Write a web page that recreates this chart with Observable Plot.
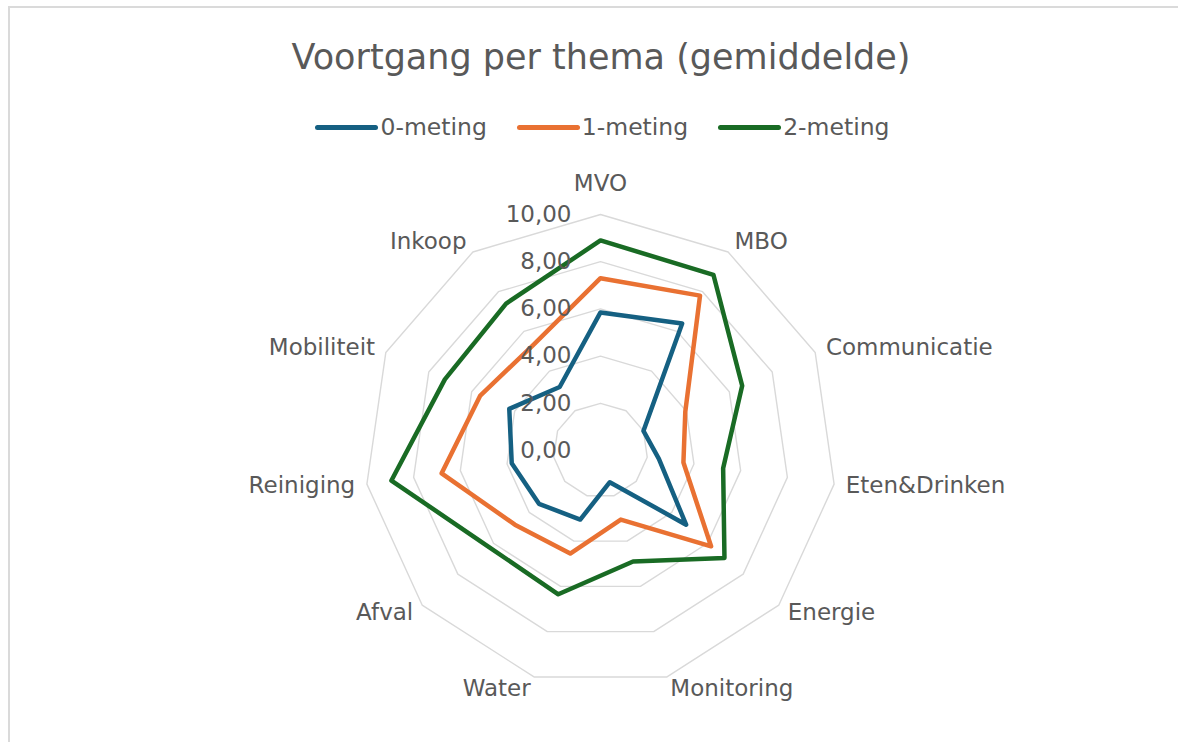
<!DOCTYPE html>
<html>
<head>
<meta charset="utf-8">
<script src="https://cdn.jsdelivr.net/npm/d3@7"></script>
<script src="https://cdn.jsdelivr.net/npm/@observablehq/plot@0.6"></script>
<style>
  html, body { margin: 0; padding: 0; background: #fff; overflow: hidden; }
  #page { position: relative; width: 1178px; height: 742px; overflow: hidden; font-family: "DejaVu Sans", sans-serif; color: #595959; }
  #frame { position: absolute; left: 8px; top: 6px; width: 1400px; height: 1000px; border: 2px solid #dadada; box-sizing: border-box; }
  #chart { position: absolute; left: 0; top: 0; }
  #title { position: absolute; left: 0; top: 37px; width: 1202px; text-align: center; font-size: 35px; line-height: 40px; white-space: nowrap; }
  #legend { position: absolute; left: 0; top: 112px; width: 1205px; display: flex; justify-content: center; gap: 30px; font-size: 23.5px; line-height: 30px; }
  .item { display: flex; align-items: center; white-space: nowrap; }
  .swatch { width: 63px; height: 5px; border-radius: 2.5px; margin-right: 2px; }
</style>
</head>
<body>
<div id="page">
  <div id="frame"></div>
  <div id="chart"></div>
  <div id="title">Voortgang per thema (gemiddelde)</div>
  <div id="legend"></div>
</div>
<script>
// ---- data ----
const categories = ["MVO", "MBO", "Communicatie", "Eten&Drinken", "Energie", "Monitoring", "Water", "Afval", "Reiniging", "Mobiliteit", "Inkoop"];
const seriesNames = ["0-meting", "1-meting", "2-meting"];
const meting0 = [5.85, 6.4, 2.0, 2.5, 4.8, 1.4, 3.05, 3.45, 3.8, 4.25, 3.2];
const meting1 = [7.3, 7.8, 3.95, 3.55, 6.2, 3.05, 4.55, 4.8, 6.8, 5.6, 5.3];
const meting2 = [8.9, 8.85, 6.6, 5.25, 6.95, 4.9, 6.35, 6.25, 8.95, 7.25, 7.4];
const tickValues = [0, 2, 4, 6, 8, 10];
const tickLabels = ["0,00", "2,00", "4,00", "6,00", "8,00", "10,00"];
const seriesColors = ["#156082", "#E97132", "#196B24"];

// ---- layout ----
const W = 1178, H = 742;
const cx = 600, cy = 450, pxPerUnit = 23.6;
const n = categories.length;
const angle = i => i * 2 * Math.PI / n;
const px = (v, i) => v * Math.sin(angle(i));
const py = (v, i) => v * Math.cos(angle(i));

const allSeries = [meting0, meting1, meting2];
const points = [];
allSeries.forEach((vals, s) => vals.forEach((v, i) => points.push({series: seriesNames[s], cat: categories[i], i, v})));

const rings = [];
tickValues.filter(t => t > 0).forEach(t => categories.forEach((c, i) => rings.push({level: t, i})));

const labelR = 10.5;
const labels = categories.map((c, i) => ({c, i}));
const topLabels = labels.filter(d => d.i === 0);
const rightLabels = labels.filter(d => d.i >= 1 && d.i <= 5);
const leftLabels = labels.filter(d => d.i >= 6);

const ticks = tickValues.map((t, k) => ({t, label: tickLabels[k]}));

const textStyle = {fill: "#595959", fontSize: 23};

const chart = Plot.plot({
  width: W,
  height: H,
  margin: 0,
  style: {fontFamily: "DejaVu Sans", background: "transparent", overflow: "visible"},
  x: {domain: [-cx / pxPerUnit, (W - cx) / pxPerUnit], axis: null},
  y: {domain: [-(H - cy) / pxPerUnit, cy / pxPerUnit], axis: null},
  color: {domain: seriesNames, range: seriesColors},
  marks: [
    Plot.line(rings, {x: d => px(d.level, d.i), y: d => py(d.level, d.i), z: "level", curve: "linear-closed", stroke: "#d9d9d9", strokeWidth: 1.4}),
    Plot.line(points, {x: d => px(d.v, d.i), y: d => py(d.v, d.i), z: "series", stroke: "series", curve: "linear-closed", strokeWidth: 4.5, strokeLinejoin: "round"}),
    Plot.text(ticks, {x: 0, y: d => d.t, text: "label", textAnchor: "end", dx: -29, ...textStyle}),
    Plot.text(topLabels, {x: d => px(labelR, d.i), y: d => py(labelR, d.i), text: "c", textAnchor: "middle", dy: -19, ...textStyle}),
    Plot.text(rightLabels, {x: d => px(labelR, d.i), y: d => py(labelR, d.i), text: "c", textAnchor: "start", ...textStyle}),
    Plot.text(leftLabels, {x: d => px(labelR, d.i), y: d => py(labelR, d.i), text: "c", textAnchor: "end", ...textStyle})
  ]
});
document.getElementById("chart").appendChild(chart);

// ---- legend ----
const legend = document.getElementById("legend");
seriesNames.forEach((name, s) => {
  const item = document.createElement("div");
  item.className = "item";
  const sw = document.createElement("span");
  sw.className = "swatch";
  sw.style.background = seriesColors[s];
  const tx = document.createElement("span");
  tx.textContent = name;
  item.appendChild(sw);
  item.appendChild(tx);
  legend.appendChild(item);
});
</script>
</body>
</html>
